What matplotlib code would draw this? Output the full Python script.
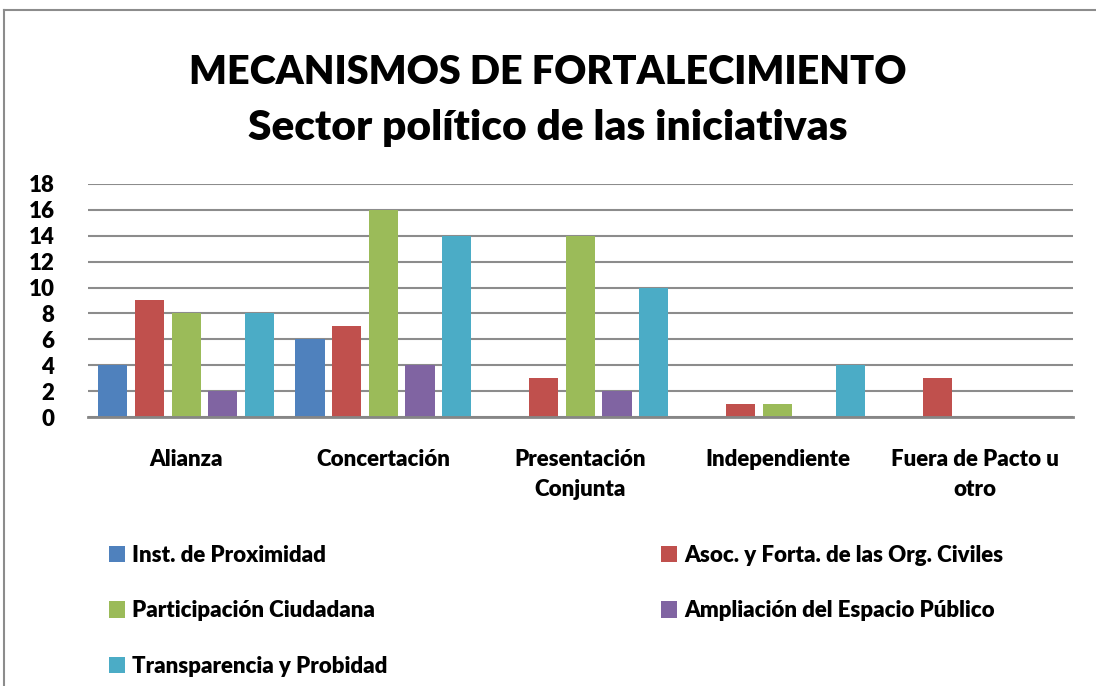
import matplotlib
matplotlib.use('Agg')
import matplotlib.pyplot as plt
from matplotlib.lines import Line2D
import numpy as np

# Data
categories = ["Alianza", "Concertación", "Presentación\nConjunta",
              "Independiente", "Fuera de Pacto u\notro"]
series_names = ["Inst. de Proximidad", "Asoc. y Forta. de las Org. Civiles",
                "Participación Ciudadana", "Ampliación del Espacio Público",
                "Transparencia y Probidad"]
proximidad = [4, 6, 0, 0, 0]
asociaciones = [9, 7, 3, 1, 3]
participacion = [8, 16, 14, 1, 0]
ampliacion = [2, 4, 2, 0, 0]
transparencia = [8, 14, 10, 4, 0]
colors = ["#4F81BD", "#C0504D", "#9BBB59", "#8064A2", "#4BACC6"]

plt.rcParams['font.family'] = ['Lato', 'DejaVu Sans']
W = "heavy"
FS = 16

fig = plt.figure(figsize=(10.96, 6.86), dpi=100)
ax = fig.add_axes([0.080, 0.392, 0.899, 0.340])

x = np.arange(len(categories))
stride = 0.186
width = 0.148
all_series = [proximidad, asociaciones, participacion, ampliacion, transparencia]
bars = []
for i, vals in enumerate(all_series):
    b = ax.bar(x + (i - 2) * stride, vals, width, color=colors[i],
               label=series_names[i], zorder=3)
    bars.append(b)

ax.set_xlim(-0.5, len(categories) - 0.5)
ax.set_ylim(0, 18)
ax.set_yticks(range(0, 19, 2))
ax.yaxis.grid(True, color="#8c8c8c", linewidth=1.5, zorder=0)
ax.set_axisbelow(True)
for s in ["top", "right", "left"]:
    ax.spines[s].set_visible(False)
ax.spines["bottom"].set_color("#868686")
ax.spines["bottom"].set_linewidth(2)
ax.spines["bottom"].set_zorder(4)
ax.tick_params(axis="both", length=0, labelsize=FS)
ax.tick_params(axis="y", pad=24)
ax.tick_params(axis="x", pad=23)
ax.set_xticks(x)
ax.set_xticklabels(categories, linespacing=1.5)
for t in ax.get_yticklabels() + ax.get_xticklabels():
    t.set_fontweight(W)

fig.text(0.500, 0.895, "MECANISMOS DE FORTALECIMIENTO", ha="center", va="center",
         fontsize=28.5, fontweight=W)
fig.text(0.500, 0.813, "Sector político de las iniciativas", ha="center", va="center",
         fontsize=30.5, fontweight=W)

# legend (column-major order to get row-wise layout)
order = [0, 2, 4, 1, 3]
handles = [bars[i] for i in order]
labels = [series_names[i] for i in order]
leg = fig.legend(handles, labels, ncol=2, loc="upper left",
                 bbox_to_anchor=(0.099, 0.206), frameon=False,
                 fontsize=FS, handlelength=0.75, handleheight=0.75,
                 handletextpad=0.3, labelspacing=1.55, columnspacing=12.3,
                 borderpad=0, borderaxespad=0)
for t in leg.get_texts():
    t.set_fontweight(W)

# chart frame (top and left edges visible)
fig.add_artist(Line2D([0.0037, 1.0], [0.9854, 0.9854], color="#8c8c8c", linewidth=1.5,
                      transform=fig.transFigure))
fig.add_artist(Line2D([0.0037, 0.0037], [0.0, 0.9854], color="#8c8c8c", linewidth=1.5,
                      transform=fig.transFigure))

fig.savefig("out.png", dpi=100)
